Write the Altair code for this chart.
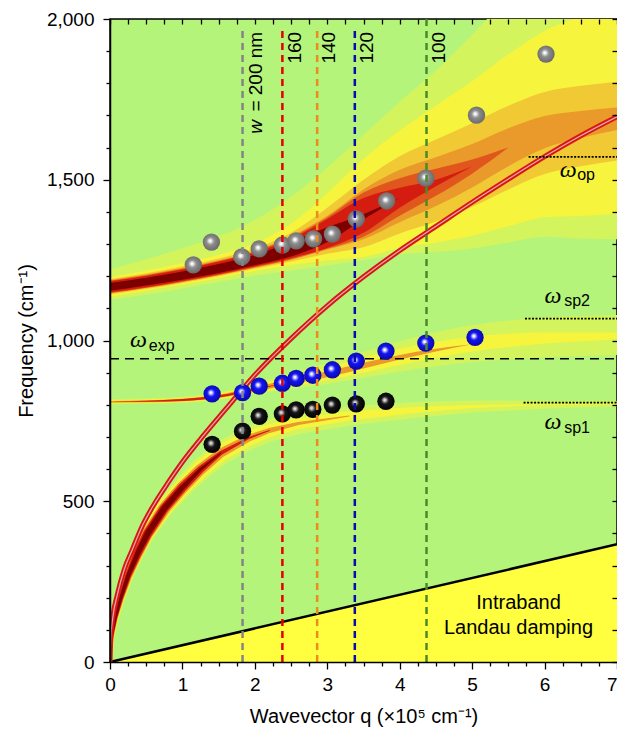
import altair as alt
import pandas as pd

# ---------------- values ----------------
# measured modes (spheres)
GRAY_Q = [1.15, 1.40, 1.82, 2.06, 2.38, 2.57, 2.81, 3.07, 3.40, 3.82, 4.36, 5.06, 6.02]
GRAY_W = [1235, 1306, 1260, 1285, 1297, 1310, 1316, 1331, 1378, 1434, 1505, 1701, 1891]
BLUE_Q = [1.41, 1.83, 2.06, 2.38, 2.57, 2.80, 3.07, 3.40, 3.81, 4.36, 5.04]
BLUE_W = [834, 838, 858, 867, 882, 892, 909, 936, 967, 992, 1010]
BLACK_Q = [1.41, 1.83, 2.06, 2.38, 2.57, 2.80, 3.07, 3.40, 3.81]
BLACK_W = [677, 718, 764, 772, 784, 786, 799, 803, 811]

# light line (red curve)
LIGHT_Q = [0, 0.01, 0.04, 0.1, 0.2, 0.3, 0.45, 0.6, 0.8, 1.0, 1.3, 1.6, 2.0, 2.5, 3.0, 3.5,
           4.0, 4.5, 5.0, 5.5, 6.0, 6.5, 7.0]
LIGHT_W = [0, 70, 140, 208, 290, 345, 425, 487, 557, 622, 707, 787, 893, 1006, 1108, 1198,
           1280, 1355, 1430, 1502, 1572, 1637, 1696]

# intraband Landau damping boundary
LANDAU_Q = [0, 7]
LANDAU_W = [0, 366]

# upper loss branch: centre and extents (cm^-1 below / above centre) of each colour level
UP_Q = [0, 0.5, 1, 1.5, 2, 2.5, 3, 3.5, 4, 4.5, 5, 5.5, 6, 6.5, 7]
UP_C = [1167, 1183, 1202, 1224, 1250, 1283, 1328, 1385, 1443, 1490, 1541, 1600, 1648, 1672, 1690]
UP_PALE_LO = [40, 40, 40, 42, 48, 65, 95, 135, 175, 215, 255, 295, 325, 355, 375]
UP_PALE_HI = [55, 70, 85, 100, 125, 165, 210, 255, 300, 350, 410, 470, 530, 580, 630]
UP_YEL_LO = [30, 28, 28, 30, 34, 48, 78, 125, 155, 185, 215, 245, 265, 285, 295]
UP_YEL_HI = [30, 34, 38, 43, 52, 80, 130, 180, 210, 240, 265, 290, 315, 335, 350]
UP_GOLD_LO = [24, 23, 23, 24, 27, 37, 58, 95, 110, 120, 125, 130, 130, 130, 130]
UP_GOLD_HI = [24, 26, 28, 31, 36, 52, 85, 115, 130, 135, 135, 130, 125, 120, 115]
UP_ORA_LO = [21, 20, 20, 21, 24, 32, 45, 70, 75, 72, 65, 58, 50, 42, 35]
UP_ORA_HI = [21, 22, 24, 26, 30, 42, 60, 85, 88, 80, 70, 60, 50, 42, 35]
UP_RO_LO = [19, 19, 19, 20, 22, 30, 43, 62, 55, 40, 22, 0]
UP_RO_HI = [19, 20, 21, 23, 27, 37, 55, 75, 62, 44, 22, 0]
UP_RED_LO = [17, 17, 17, 18, 20, 27, 40, 50, 30, 10, 0]
UP_RED_HI = [17, 18, 19, 21, 24, 33, 50, 58, 32, 10, 0]
UP_DARK_LO = [12, 12, 13, 14, 16, 22, 22, 8, 0]
UP_DARK_HI = [12, 12, 13, 14, 16, 24, 24, 8, 0]

# middle loss branch
MID_Q = [0, 0.5, 1, 1.5, 2, 2.5, 3, 3.5, 4, 4.5, 5, 5.5, 6, 6.5, 7]
MID_C = [809, 811, 815, 826, 848, 872, 895, 922, 948, 970, 988, 1000, 1008, 1012, 1015]
MID_PALE_LO = [8, 8, 9, 11, 15, 22, 30, 38, 45, 50, 55, 58, 60, 60, 60]
MID_PALE_HI = [8, 9, 10, 13, 19, 27, 35, 43, 50, 56, 60, 62, 64, 64, 64]
MID_YEL_LO = [5, 5, 6, 8, 11, 15, 19, 22, 24, 24, 22, 20, 17, 14, 10]
MID_YEL_HI = [5, 5, 6, 9, 13, 17, 21, 24, 26, 26, 24, 21, 18, 14, 10]
MID_ORA = [2.5, 3, 4, 5, 7, 8, 9, 9, 7, 4, 0]
MID_RED = [0, 1.5, 3, 3.5, 2, 0]

# lower loss branch (centre line) and its drawn widths (px) per colour level
LOW_Q = [0, 0.03, 0.08, 0.15, 0.25, 0.38, 0.52, 0.75, 1.0, 1.25, 1.53, 1.9, 2.2, 2.6, 3.3,
         4.2, 5.0, 6.0, 7.0]
LOW_W = [0, 78, 138, 200, 268, 337, 400, 478, 543, 599, 650, 695, 720, 742, 765, 784, 795,
         800, 803]
LOW_PALE_PX = [2, 5, 7, 9, 11, 13, 15, 18, 20, 22, 23, 23, 22, 21, 19, 16, 12, 8, 5]
LOW_YEL_PX = [2, 3, 5, 7, 9, 11, 13, 15, 16, 17, 16, 15, 13, 11, 9, 6, 3, 1, 0]
LOW_ORA_PX = [1, 3, 4, 6, 8, 10, 11, 12, 12, 11, 9, 7, 5, 3, 0]
LOW_RED_PX = [1, 2, 3, 5, 6, 8, 9, 9, 9, 7, 4, 2, 0]
LOW_DARK_PX = [0, 1, 2, 3, 4, 5, 6, 6, 5, 3, 0]

# vertical dashed lines (ribbon widths)
VLINE_Q = [1.83, 2.38, 2.86, 3.38, 4.37]
VLINE_TOP = [1975, 1975, 1975, 1975, 2000]
VLINE_LABEL = ["= 200 nm", "160", "140", "120", "100"]
VLINE_LABEL_Q = [2.02, 2.56, 3.03, 3.55, 4.54]
VLINE_COLOR = ["#858585", "#e50000", "#ee8a1e", "#0a0ab0", "#4a8a28"]

OMEGA_EXP = 943
OMEGA_REF_W = [1571, 1068, 807]
OMEGA_REF_Q0 = [5.78, 5.73, 5.71]

OMEGA_TXT_Q = [0.275, 6.21, 6.0, 6.0]
OMEGA_TXT_W = [980, 1510, 1118, 725]
SUB_TXT_Q = [0.535, 6.45, 6.27, 6.27]
SUB_TXT_W = [968, 1499, 1106, 713]
SUB_TXT = ["exp", "op", "sp2", "sp1"]

# ---------------- styling ----------------
W, H = 507, 643
BG = "#b4f47a"
PALE, YEL, GOLD, ORA, REDORA, RED, DARK = ("#d3f45c", "#f7f43e", "#f1c934", "#e99a2a",
                                           "#e0561c", "#d41c10", "#7c0000")
SANS = "Liberation Sans"
SERIF = "Liberation Serif"

xs = alt.Scale(domain=[0, 7], nice=False, zero=False)
ys = alt.Scale(domain=[0, 2000], nice=False, zero=False)


def xe(field="q", axis=None):
    return alt.X(f"{field}:Q", scale=xs, axis=axis)


def ye(field="w", axis=None):
    return alt.Y(f"{field}:Q", scale=ys, axis=axis)


def band(q, c, lo, hi, color):
    n = len(lo)
    df = pd.DataFrame({"q": q[:n],
                       "lo": [c[i] - lo[i] for i in range(n)],
                       "hi": [c[i] + hi[i] for i in range(n)]})
    return alt.Chart(df).mark_area(color=color, interpolate="monotone", clip=True,
                                   opacity=1).encode(x=xe(), y=ye("lo"), y2="hi:Q")


def trail(widths, color):
    n = len(widths)
    df = pd.DataFrame({"q": LOW_Q[:n], "w": LOW_W[:n], "s": widths})
    return alt.Chart(df).mark_trail(color=color, clip=True).encode(
        x=xe(), y=ye(), size=alt.Size("s:Q", scale=None, legend=None),
        order=alt.Order("q:Q"))


x_ticks = [i * 0.25 for i in range(29)]
y_ticks = list(range(0, 2001, 100))
x_tick_size = {"condition": {"test": "datum.value % 1 === 0", "value": 7}, "value": 4}
y_tick_size = {"condition": {"test": "datum.value % 500 === 0", "value": 7}, "value": 4}

x_bottom = alt.Axis(orient="bottom", values=x_ticks, tickSize=x_tick_size,
                    labelExpr="datum.value % 1 === 0 ? format(datum.value, 'd') : ''",
                    labelAlign={"condition": {"test": "datum.value === 7", "value": "right"},
                                "value": "center"},
                    title="Wavevector q (×10⁵ cm⁻¹)", titlePadding=12, labelPadding=6,
                    labelFlush=False, labelOverlap=False, grid=False, zindex=1)
y_left = alt.Axis(orient="left", values=y_ticks, tickSize=y_tick_size,
                  labelExpr="datum.value % 500 === 0 ? format(datum.value, ',') : ''",
                  title="Frequency (cm⁻¹)", titlePadding=10, labelPadding=9,
                  labelFlush=False, labelOverlap=False, grid=False, zindex=1)
# mirrored frame ticks, pointing into the plot
x_top = alt.Axis(orient="top", values=x_ticks, tickSize={"expr": "-5"}, labels=False,
                 domain=False, title=None, grid=False, zindex=1)
y_right = alt.Axis(orient="right", values=y_ticks, tickSize={"expr": "-5"}, labels=False,
                   domain=False, title=None, grid=False, zindex=1)

layers = []

# Landau damping region (carries the main axes)
landau_df = pd.DataFrame({"q": LANDAU_Q, "w": LANDAU_W})
layers.append(alt.Chart(landau_df).mark_area(color="#ffff3f", opacity=1).encode(
    x=xe(axis=x_bottom), y=ye(axis=y_left), y2=alt.datum(0)))
# frame ticks on top / right
layers.append(alt.Chart(landau_df).mark_point(opacity=0).encode(
    x=xe(axis=x_top), y=ye(axis=y_right)))

# upper branch
for lo, hi, col in [(UP_PALE_LO, UP_PALE_HI, PALE), (UP_YEL_LO, UP_YEL_HI, YEL),
                    (UP_GOLD_LO, UP_GOLD_HI, GOLD), (UP_ORA_LO, UP_ORA_HI, ORA),
                    (UP_RO_LO, UP_RO_HI, REDORA), (UP_RED_LO, UP_RED_HI, RED),
                    (UP_DARK_LO, UP_DARK_HI, DARK)]:
    layers.append(band(UP_Q, UP_C, lo, hi, col))
# middle branch
for lo, hi, col in [(MID_PALE_LO, MID_PALE_HI, PALE), (MID_YEL_LO, MID_YEL_HI, YEL),
                    (MID_ORA, MID_ORA, ORA), (MID_RED, MID_RED, RED)]:
    layers.append(band(MID_Q, MID_C, lo, hi, col))
# lower branch
for wpx, col in [(LOW_PALE_PX, PALE), (LOW_YEL_PX, YEL), (LOW_ORA_PX, ORA),
                 (LOW_RED_PX, RED), (LOW_DARK_PX, DARK)]:
    layers.append(trail(wpx, col))

# Landau boundary line
layers.append(alt.Chart(landau_df).mark_line(color="black", strokeWidth=2.5).encode(
    x=xe(), y=ye()))

# light line: red with pale centre
light_df = pd.DataFrame({"q": LIGHT_Q, "w": LIGHT_W})
layers.append(alt.Chart(light_df).mark_line(color="#dc1414", strokeWidth=5,
                                             interpolate="monotone", clip=True).encode(
    x=xe(), y=ye()))
layers.append(alt.Chart(light_df).mark_line(color="#dcb0b0", strokeWidth=1.2,
                                             interpolate="monotone", clip=True).encode(
    x=xe(), y=ye()))

# omega_exp dashed line
layers.append(alt.Chart(pd.DataFrame({"q": [0], "q2": [7], "w": [OMEGA_EXP]})).mark_rule(
    color="black", strokeWidth=1.5, strokeDash=[9, 6]).encode(x=xe(), x2="q2:Q", y=ye()))

# dotted reference levels
ref_df = pd.DataFrame({"q": OMEGA_REF_Q0, "q2": [7] * 3, "w": OMEGA_REF_W})
layers.append(alt.Chart(ref_df).mark_rule(color="black", strokeWidth=1.8,
                                          strokeDash=[2, 1.5]).encode(
    x=xe(), x2="q2:Q", y=ye()))


def sphere(base, edge, hl="white"):
    return alt.RadialGradient(
        gradient="radial", x1=0.42, y1=0.42, r1=0, x2=0.48, y2=0.48, r2=0.55,
        stops=[alt.GradientStop(color=hl, offset=0),
               alt.GradientStop(color=hl, offset=0.08),
               alt.GradientStop(color=base, offset=0.4),
               alt.GradientStop(color=edge, offset=1)])


for qv, wv, base, edge, hl in [(GRAY_Q, GRAY_W, "#8e8e8e", "#666666", "white"),
                               (BLUE_Q, BLUE_W, "#1414f5", "#0808a0", "white"),
                               (BLACK_Q, BLACK_W, "#151515", "#000000", "#e0e0e0")]:
    layers.append(alt.Chart(pd.DataFrame({"q": qv, "w": wv})).mark_circle(
        size=300, opacity=1, fill=sphere(base, edge, hl), strokeWidth=0).encode(
        x=xe(), y=ye()))

# vertical dashed lines
vdf = pd.DataFrame({"q": VLINE_Q, "top": VLINE_TOP, "c": VLINE_COLOR, "w": [0] * 5})
layers.append(alt.Chart(vdf).mark_rule(strokeWidth=2.5, strokeDash=[7, 5]).encode(
    x=xe(), y=ye(), y2="top:Q", color=alt.Color("c:N", scale=None)))

# rotated width labels
ldf = pd.DataFrame({"q": VLINE_LABEL_Q, "w": [1960] * 5, "t": VLINE_LABEL})
layers.append(alt.Chart(ldf).mark_text(angle=270, align="right", baseline="middle",
                                       font=SANS, fontSize=19, color="black").encode(
    x=xe(), y=ye(), text="t:N"))
layers.append(alt.Chart(pd.DataFrame({"q": [VLINE_LABEL_Q[0]], "w": [1686], "t": ["w"]}))
              .mark_text(angle=270, align="right", baseline="middle", font=SANS,
                         fontSize=19, fontStyle="italic", color="black").encode(
    x=xe(), y=ye(), text="t:N"))

# omega labels
layers.append(alt.Chart(pd.DataFrame({"q": OMEGA_TXT_Q, "w": OMEGA_TXT_W, "t": ["ω"] * 4}))
              .mark_text(align="left", baseline="alphabetic", font=SERIF, fontSize=24,
                         fontStyle="italic", color="black").encode(
    x=xe(), y=ye(), text="t:N"))
layers.append(alt.Chart(pd.DataFrame({"q": SUB_TXT_Q, "w": SUB_TXT_W, "t": SUB_TXT}))
              .mark_text(align="left", baseline="alphabetic", font=SANS, fontSize=16,
                         color="black").encode(x=xe(), y=ye(), text="t:N"))

# Landau damping label
layers.append(alt.Chart(pd.DataFrame({"q": [5.64, 5.64], "w": [183, 106],
                                      "t": ["Intraband", "Landau damping"]}))
              .mark_text(align="center", baseline="middle", font=SANS, fontSize=20,
                         color="black").encode(x=xe(), y=ye(), text="t:N"))

chart = alt.layer(*layers).resolve_axis(x="independent", y="independent").properties(
    width=W, height=H,
    autosize=alt.AutoSizeParams(type="none"),
    padding={"left": 102, "top": 11, "right": 0, "bottom": 68},
).configure_view(fill=BG, stroke="black", strokeWidth=1.5).configure_axis(
    labelFont=SANS, labelFontSize=19, labelColor="black", titleFont=SANS, titleFontSize=20,
    titleFontWeight="normal", titleColor="black", tickColor="black", tickWidth=1.3,
    domainColor="black", domainWidth=1.5)

chart.save("out.html", embed_options={"renderer": "svg", "actions": False})
